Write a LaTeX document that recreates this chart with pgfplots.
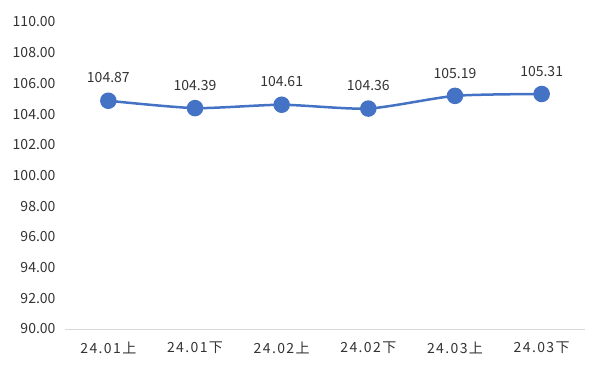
\documentclass[border=0pt]{standalone}
\usepackage{fontspec}
\setmainfont{Noto Sans CJK SC}
\newfontfamily\xlab[LetterSpace=10]{Noto Sans CJK SC}
\usepackage{pgfplots}
\pgfplotsset{compat=1.18}
\definecolor{line}{HTML}{4472C4}
\definecolor{txt}{HTML}{333333}
\definecolor{ax}{HTML}{D9D9D9}
\begin{document}
\begin{tikzpicture}[x=1pt,y=1pt]
\path[use as bounding box] (0,0) rectangle (599,376);
\begin{axis}[
  at={(65pt,47pt)}, anchor=south west,
  scale only axis, width=520pt, height=307pt,
  xmin=-0.5, xmax=5.5, ymin=90, ymax=110,
  ytick={90,92,...,110},
  xtick={0,...,5},
  xticklabels={24.01上,24.01下,24.02上,24.02下,24.03上,24.03下},
  axis y line*=left, axis x line*=bottom,
  y axis line style={draw=none},
  x axis line style={draw=ax, line width=0.8pt, -},
  major tick length=0pt,
  tick style={draw=none},
  /pgf/number format/.cd, fixed, fixed zerofill, precision=2, assume math mode=true,
  /pgfplots/.cd,
  yticklabel style={font=\fontsize{14}{16}\selectfont, text=txt, xshift=-6pt},
  xticklabel style={font=\xlab\fontsize{14}{16}\selectfont, text=txt, yshift=-9pt},
  clip=false,
  nodes near coords,
  nodes near coords style={font=\fontsize{14}{16}\selectfont, text=txt, yshift=13pt},
  point meta=explicit symbolic,
]
\addplot[line, line width=2.5pt, smooth, tension=0.4, mark=*, mark size=7pt, mark options={fill=line, draw=none}]
 table[meta=l] {
 x y l
 0 104.87 104.87
 1 104.39 104.39
 2 104.61 104.61
 3 104.36 104.36
 4 105.19 105.19
 5 105.31 105.31
 };
\end{axis}
\end{tikzpicture}
\end{document}
